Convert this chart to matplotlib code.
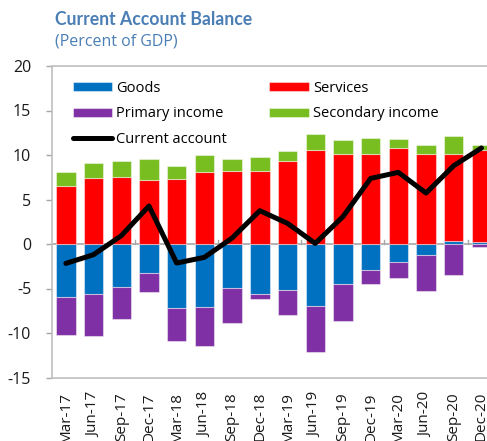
import matplotlib
matplotlib.use("Agg")
import matplotlib.pyplot as plt
import numpy as np

plt.rcParams['font.family'] = ['Open Sans', 'DejaVu Sans']
plt.rcParams['axes.unicode_minus'] = False

quarters = ["Mar-17", "Jun-17", "Sep-17", "Dec-17", "Mar-18", "Jun-18", "Sep-18", "Dec-18",
            "Mar-19", "Jun-19", "Sep-19", "Dec-19", "Mar-20", "Jun-20", "Sep-20", "Dec-20"]
goods = [-5.92, -5.66, -4.80, -3.26, -7.19, -7.04, -4.91, -5.66,
         -5.17, -6.97, -4.50, -2.92, -2.03, -1.20, 0.30, 0.25]
services = [6.47, 7.37, 7.53, 7.15, 7.26, 8.12, 8.20, 8.16,
            9.36, 10.52, 10.07, 10.07, 10.82, 10.07, 9.77, 10.35]
primary_income = [-4.28, -4.68, -3.63, -2.13, -3.68, -4.42, -4.01, -0.49,
                  -2.85, -5.16, -4.15, -1.58, -1.83, -4.12, -3.45, -0.34]
secondary_income = [1.58, 1.69, 1.80, 2.40, 1.54, 1.84, 1.38, 1.61,
                    1.04, 1.80, 1.62, 1.87, 0.98, 1.01, 2.06, 0.48]
current_account = [-2.18, -1.20, 0.93, 4.27, -2.14, -1.50, 0.67, 3.74,
                   2.32, 0.07, 3.07, 7.37, 8.05, 5.73, 8.80, 10.79]

W, H = 487, 441
fig = plt.figure(figsize=(W / 100, H / 100), dpi=100)
ax = fig.add_axes([52 / W, 1 - 377.5 / H, (487 - 52) / W, (377.5 - 66) / H])

x = np.arange(len(quarters))
width = 0.70
pos_bottom = np.zeros(len(x))
neg_bottom = np.zeros(len(x))
series = [("Goods", goods, "#0070C0"),
          ("Services", services, "#FF0000"),
          ("Primary income", primary_income, "#7F30A5"),
          ("Secondary income", secondary_income, "#78BE20")]
handles = {}
for name, vals, col in series:
    v = np.array(vals, dtype=float)
    bottom = np.where(v >= 0, pos_bottom, neg_bottom)
    b = ax.bar(x, v, width, bottom=bottom, color=col, edgecolor=(1, 1, 1, 0.45),
               linewidth=0.8, label=name, zorder=2)
    handles[name] = b
    pos_bottom = pos_bottom + np.where(v >= 0, v, 0)
    neg_bottom = neg_bottom + np.where(v < 0, v, 0)

ax.axhline(0, color="#A6A6A6", lw=1.2, zorder=1.5)
for t in np.arange(2.5, len(x), 3):
    ax.plot([t, t], [0, 0.4], color="#A6A6A6", lw=1.0, zorder=1.5)

line, = ax.plot(x, current_account, color="black", lw=3.6, solid_capstyle="round",
                solid_joinstyle="round", label="Current account", zorder=3)

ax.set_xlim(-0.5, 15.2)
ax.set_ylim(-15, 20)
ax.set_yticks(np.arange(-15, 21, 5))
ax.set_xticks(x)
ax.set_xticklabels(quarters, rotation=90, fontsize=11, color="#1a1a1a")
ax.tick_params(axis="x", length=0, pad=10.5)
ax.tick_params(axis="y", length=4, width=1, color="#A6A6A6", pad=11, labelsize=11.5,
               labelcolor="#1a1a1a")
for s in ["left", "bottom", "top"]:
    ax.spines[s].set_color("#BFBFBF")
    ax.spines[s].set_linewidth(1.2)
ax.spines["right"].set_visible(False)

leg = ax.legend([handles["Goods"], handles["Primary income"], line,
                 handles["Services"], handles["Secondary income"]],
                ["Goods", "Primary income", "Current account", "Services", "Secondary income"],
                ncol=2, loc="upper left", bbox_to_anchor=(20.7 / 435, 0.952), frameon=False,
                fontsize=10.5, handlelength=2.7, handleheight=0.57, handletextpad=0.3,
                labelspacing=0.72, columnspacing=2.9, borderpad=0, borderaxespad=0)

title_color = "#4A7EB5"
renderer = fig.canvas.get_renderer()


def fitted_text(xpx, ypx, s, target_w, size, **kw):
    t = fig.text(xpx / W, 1 - ypx / H, s, fontsize=size, va="baseline", ha="left",
                 color=title_color, **kw)
    w = t.get_window_extent(renderer).width
    t.set_fontsize(size * target_w / w)
    return t


fitted_text(55, 25, "Current Account Balance", 196, 12, fontweight="bold",
            family=["Lato", "DejaVu Sans"])
fitted_text(55, 45, "(Percent of GDP)", 123, 11, family=["Open Sans", "DejaVu Sans"])

fig.savefig("out.png", dpi=100)
